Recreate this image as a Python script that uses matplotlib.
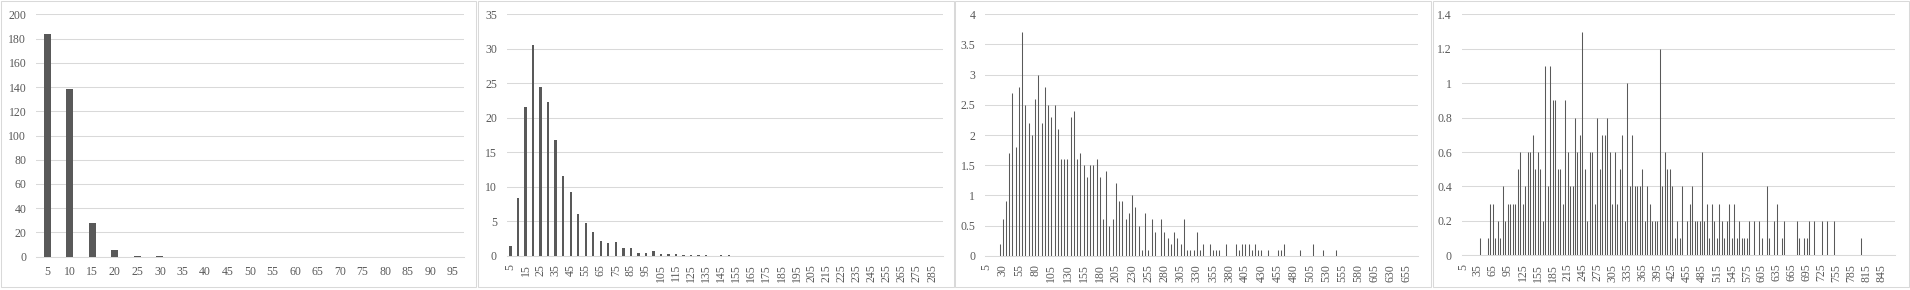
import matplotlib
matplotlib.use("Agg")
import matplotlib.pyplot as plt
from matplotlib.patches import Rectangle
import numpy as np

plt.rcParams['font.family'] = ['Liberation Serif', 'DejaVu Serif']

# ---------------- data ----------------
cat1 = list(range(5, 100, 5))            # 5..95
val1 = [184, 138, 28, 5.5, 0.6, 0.6, 0, 0, 0, 0, 0, 0, 0, 0, 0, 0, 0, 0, 0]

cat2 = list(range(5, 295, 5))            # 5..290
val2 = [1.4, 8.4, 21.6, 30.6, 24.4, 22.3, 16.8, 11.6, 9.2, 6.0,
        4.7, 3.4, 2.1, 1.8, 1.95, 1.1, 1.1, 0.4, 0.45, 0.65,
        0.3, 0.2, 0.25, 0.15, 0.12, 0.15, 0.12, 0, 0.12, 0.12] + [0] * 28

cat3 = list(range(5, 675, 5))            # 5..670
val3 = [0, 0, 0, 0, 0.2, 0.6, 0.9, 1.7, 2.7, 1.8,
        2.8, 3.7, 2.5, 2.2, 2.0, 2.6, 3.0, 2.2, 2.8, 2.5,
        2.3, 2.5, 2.1, 1.6, 1.6, 1.6, 2.3, 2.4, 1.6, 1.7,
        1.5, 1.3, 1.5, 1.5, 1.6, 1.3, 0.6, 1.4, 0.5, 0.6,
        1.2, 0.9, 0.9, 0.6, 0.7, 1.0, 0.8, 0.5, 0.1, 0.7,
        0.1, 0.6, 0.4, 0, 0.6, 0.4, 0.3, 0.2, 0.4, 0.3,
        0.2, 0.6, 0.1, 0.1, 0.1, 0.4, 0.1, 0.2, 0, 0.2,
        0.1, 0.1, 0.1, 0, 0.2, 0, 0, 0.2, 0.1, 0.2,
        0.2, 0.2, 0.1, 0.2, 0.1, 0.1, 0, 0.1, 0, 0,
        0.1, 0.1, 0.2, 0, 0, 0, 0, 0.1, 0, 0,
        0, 0.2, 0, 0, 0.1, 0, 0, 0, 0.1, 0] + [0] * 24

cat4 = list(range(5, 875, 5))            # 5..870
val4 = [0, 0, 0, 0, 0, 0, 0, 0.1, 0, 0,
        0.1, 0.3, 0.3, 0.1, 0.2, 0.1, 0.4, 0.2, 0.3, 0.3,
        0.3, 0.3, 0.5, 0.6, 0.3, 0.4, 0.6, 0.6, 0.7, 0.5,
        0.6, 0.5, 0.2, 1.1, 0.4, 1.1, 0.9, 0.9, 0.5, 0.5,
        0.3, 0.9, 0.6, 0.4, 0.4, 0.8, 0.6, 0.7, 1.3, 0.5,
        0.2, 0.6, 0.6, 0.3, 0.8, 0.5, 0.7, 0.7, 0.8, 0.6,
        0.3, 0.6, 0.3, 0.5, 0.7, 0.2, 1.0, 0.4, 0.7, 0.4,
        0.4, 0.4, 0.5, 0.2, 0.4, 0.3, 0.2, 0.2, 0.2, 1.2,
        0.4, 0.6, 0.5, 0.5, 0.4, 0.1, 0.2, 0.1, 0.4, 0,
        0.2, 0.3, 0.4, 0.2, 0.2, 0.2, 0.6, 0.2, 0.3, 0.1,
        0.3, 0.2, 0.1, 0.3, 0.2, 0.1, 0.2, 0.3, 0.1, 0.3,
        0.1, 0.2, 0.1, 0.1, 0.1, 0.2, 0, 0.2, 0, 0.2,
        0.1, 0, 0.4, 0.1, 0, 0.2, 0.3, 0, 0.1, 0.2,
        0, 0, 0, 0, 0.2, 0.1, 0, 0.1, 0.1, 0.2,
        0, 0.2, 0, 0, 0.2, 0, 0.2, 0, 0, 0.2,
        0, 0, 0, 0, 0, 0, 0, 0, 0, 0,
        0.1, 0, 0, 0, 0, 0, 0, 0, 0, 0,
        0, 0, 0, 0]

panels = [
    dict(cats=cat1, vals=val1, ymax=200, ystep=20, lab_every=1, rot=0, kind='bar'),
    dict(cats=cat2, vals=val2, ymax=35, ystep=5, lab_every=2, rot=90, kind='bar'),
    dict(cats=cat3, vals=val3, ymax=4, ystep=0.5, lab_every=5, rot=90, kind='line'),
    dict(cats=cat4, vals=val4, ymax=1.4, ystep=0.2, lab_every=6, rot=90, kind='line'),
]

# pixel layout (left, right, top, bottom) of plot areas
W, H = 1910, 290
areas = [(36, 464, 14.3, 256.7),
         (506.7, 943.3, 14.3, 255.7),
         (985, 1418.3, 14.3, 255.7),
         (1461.7, 1895, 14.3, 255.3)]
borders = [(0.5, 476), (477.5, 953.5), (955, 1431), (1432.5, 1909)]

BAR = '#595959'
GRID = '#d9d9d9'
TXT = '#595959'

fig = plt.figure(figsize=(W / 100, H / 100), dpi=100)

def fmt(v):
    s = ('%.1f' % v)
    if s.endswith('.0'):
        s = s[:-2]
    return s

for p, (l, r, t, b), (bl, br) in zip(panels, areas, borders):
    # chart border
    fig.add_artist(Rectangle((bl / W, 1 - 287 / H), (br - bl) / W, (287 - 1) / H,
                             transform=fig.transFigure, fill=False,
                             edgecolor=GRID, lw=0.75))
    ax = fig.add_axes([l / W, 1 - b / H, (r - l) / W, (b - t) / H])
    n = len(p['cats'])
    x = np.arange(n)
    if p['kind'] == 'bar':
        ax.bar(x, p['vals'], width=0.31, color=BAR, linewidth=0, zorder=3)
    else:
        lc = ax.vlines(x, 0, p['vals'], colors=BAR, linewidth=0.75, zorder=3)
        lc.set_snap(True)
    ax.set_xlim(-0.5, n - 0.5)
    ax.set_ylim(0, p['ymax'])
    yt = np.arange(0, p['ymax'] + p['ystep'] / 2, p['ystep'])
    ax.set_yticks(yt)
    ax.set_yticklabels([fmt(v) for v in yt])
    idx = list(range(0, n, p['lab_every']))
    ax.set_xticks(idx)
    ax.set_xticklabels([str(p['cats'][i]) for i in idx], rotation=p['rot'],
                       va='top', ha='center')
    ax.grid(axis='y', color=GRID, lw=0.75, zorder=0)
    ax.set_axisbelow(True)
    for s in ['top', 'right', 'left']:
        ax.spines[s].set_visible(False)
    ax.spines['bottom'].set_color(GRID)
    ax.spines['bottom'].set_linewidth(0.75)
    ax.tick_params(axis='y', length=0, pad=7, labelsize=8.5, labelcolor=TXT)
    ax.tick_params(axis='x', length=0, pad=6 if p['rot'] else 6.5,
                   labelsize=8.5, labelcolor=TXT)

fig.savefig('out.png', dpi=100)
